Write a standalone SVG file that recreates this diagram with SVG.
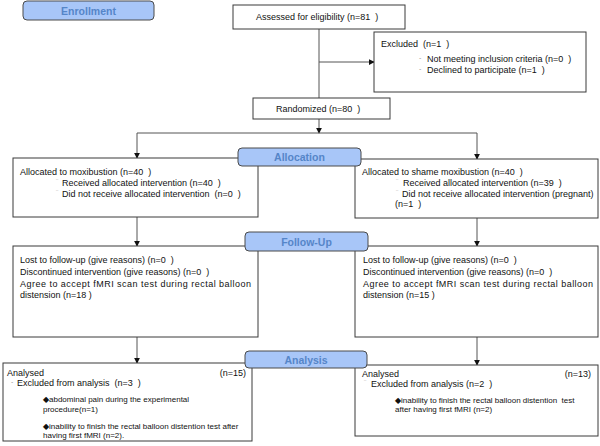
<svg xmlns="http://www.w3.org/2000/svg" width="600" height="446" viewBox="0 0 600 446">
<style>
.box{fill:#ffffff;stroke:#3a3a3a;stroke-width:1}
.hdr{fill:#a8c6f8;stroke:#4a4a4a;stroke-width:1}
.ht{font-family:"Liberation Sans",Arial,sans-serif;font-size:10.5px;font-weight:bold;fill:#5585c8;text-anchor:middle}
.t{font-family:"Liberation Sans",Arial,sans-serif;font-size:9px;fill:#111111;white-space:pre}
.s{font-family:"Liberation Sans",Arial,sans-serif;font-size:8px;fill:#111111;white-space:pre}
.m{font-family:"Liberation Sans",Arial,sans-serif;font-size:7px;fill:#999999}
.c{fill:none;stroke:#555555;stroke-width:1}
</style>
<defs>
<marker id="ah" viewBox="0 0 8 8" refX="7" refY="4" markerWidth="6" markerHeight="6" markerUnits="userSpaceOnUse" orient="auto">
<path d="M0,0 L8,4 L0,8 Z" fill="#111111"/>
</marker>
</defs>
<g id="connectors">
<line class="c" x1="319" y1="29" x2="319" y2="98"/>
<line class="c" x1="319" y1="62" x2="374" y2="62" marker-end="url(#ah)"/>
<line class="c" x1="319" y1="119" x2="319" y2="133" marker-end="url(#ah)"/>
<line class="c" x1="137" y1="133" x2="477" y2="133"/>
<line class="c" x1="137" y1="133" x2="137" y2="158" marker-end="url(#ah)"/>
<line class="c" x1="477" y1="133" x2="477" y2="159" marker-end="url(#ah)"/>
<line class="c" x1="137" y1="217" x2="137" y2="246" marker-end="url(#ah)"/>
<line class="c" x1="477" y1="218" x2="477" y2="246" marker-end="url(#ah)"/>
<line class="c" x1="137" y1="337" x2="137" y2="363" marker-end="url(#ah)"/>
<line class="c" x1="477" y1="337" x2="477" y2="365" marker-end="url(#ah)"/>
</g>
<g id="enrollment">
<rect class="hdr" x="23" y="1" width="131" height="19" rx="4"/>
<text class="ht" x="88.5" y="14.5">Enrollment</text>
</g>
<g id="assessed">
<rect class="box" x="233" y="5" width="172" height="24"/>
<text class="t" x="256" y="20" xml:space="preserve">Assessed for eligibility (n=81  )</text>
</g>
<g id="excluded">
<rect class="box" x="374" y="32" width="212" height="60"/>
<text class="t" x="381" y="47" xml:space="preserve">Excluded  (n=1  )</text>
<text class="m" x="419" y="60">-</text>
<text class="t" x="427" y="62" xml:space="preserve">Not meeting inclusion criteria (n=0  )</text>
<text class="m" x="419" y="71">-</text>
<text class="t" x="427" y="73" xml:space="preserve">Declined to participate (n=1  )</text>
</g>
<g id="randomized">
<rect class="box" x="253" y="98" width="137" height="21"/>
<text class="t" x="276" y="112" xml:space="preserve">Randomized (n=80  )</text>
</g>
<g id="alloc-left">
<rect class="box" x="13" y="158" width="245" height="59"/>
<text class="t" x="20" y="175" xml:space="preserve">Allocated to moxibustion (n=40  )</text>
<text class="m" x="56" y="184">¨</text>
<text class="t" x="62" y="186" xml:space="preserve">Received allocated intervention (n=40  )</text>
<text class="m" x="56" y="195">¨</text>
<text class="t" x="62" y="197" xml:space="preserve">Did not receive allocated intervention  (n=0  )</text>
</g>
<g id="alloc-right">
<rect class="box" x="355" y="159" width="243" height="59"/>
<text class="t" x="362" y="175" xml:space="preserve">Allocated to shame moxibustion (n=40  )</text>
<text class="m" x="396" y="184">¨</text>
<text class="t" x="403" y="186" xml:space="preserve">Received allocated intervention (n=39  )</text>
<text class="m" x="396" y="195">¨</text>
<text class="t" x="402" y="197">Did not receive allocated intervention (pregnant)</text>
<text class="t" x="395" y="207" xml:space="preserve">(n=1  )</text>
</g>
<g id="allocation">
<rect class="hdr" x="238" y="148" width="123" height="18" rx="4"/>
<text class="ht" x="299.5" y="161">Allocation</text>
</g>
<g id="follow-left">
<rect class="box" x="13" y="246" width="245" height="91"/>
<text class="t" x="20" y="263" xml:space="preserve">Lost to follow-up (give reasons) (n=0  )</text>
<text class="t" x="20" y="275" xml:space="preserve">Discontinued intervention (give reasons) (n=0  )</text>
<text class="t" x="20" y="287" textLength="231" lengthAdjust="spacing">Agree to accept fMRI scan test during rectal balloon</text>
<text class="t" x="20" y="298">distension (n=18 )</text>
</g>
<g id="follow-right">
<rect class="box" x="355" y="246" width="243" height="91"/>
<text class="t" x="363" y="263" xml:space="preserve">Lost to follow-up (give reasons) (n=0  )</text>
<text class="t" x="363" y="275" xml:space="preserve">Discontinued intervention (give reasons) (n=0  )</text>
<text class="t" x="363" y="287" textLength="230" lengthAdjust="spacing">Agree to accept fMRI scan test during rectal balloon</text>
<text class="t" x="363" y="298">distension (n=15 )</text>
</g>
<g id="follow-up">
<rect class="hdr" x="245" y="232" width="123" height="19" rx="4"/>
<text class="ht" x="306.5" y="245.5">Follow-Up</text>
</g>
<g id="analysis-left">
<rect class="box" x="3" y="363" width="249" height="78"/>
<text class="t" x="7" y="376">Analysed</text>
<text class="t" x="246" y="376" text-anchor="end">(n=15)</text>
<text class="m" x="11" y="384">-</text>
<text class="t" x="17" y="386" xml:space="preserve">Excluded from analysis  (n=3  )</text>
<text class="s" x="43" y="402">◆abdominal pain during the experimental</text>
<text class="s" x="43" y="412">procedure(n=1)</text>
<text class="s" x="43" y="429">◆inability to finish the rectal balloon distention test after</text>
<text class="s" x="43" y="438">having first fMRI (n=2).</text>
</g>
<g id="analysis-right">
<rect class="box" x="355" y="365" width="243" height="71"/>
<text class="t" x="362" y="377">Analysed</text>
<text class="t" x="591" y="377" text-anchor="end">(n=13)</text>
<text class="m" x="364" y="385">¨</text>
<text class="t" x="371" y="387" xml:space="preserve">Excluded from analysis (n=2  )</text>
<text class="s" x="395" y="403" xml:space="preserve">◆inability to finish the rectal balloon distention  test</text>
<text class="s" x="395" y="412">after having first fMRI (n=2)</text>
</g>
<g id="analysis">
<rect class="hdr" x="245" y="351" width="122" height="17" rx="4"/>
<text class="ht" x="306" y="363.5">Analysis</text>
</g>
</svg>
